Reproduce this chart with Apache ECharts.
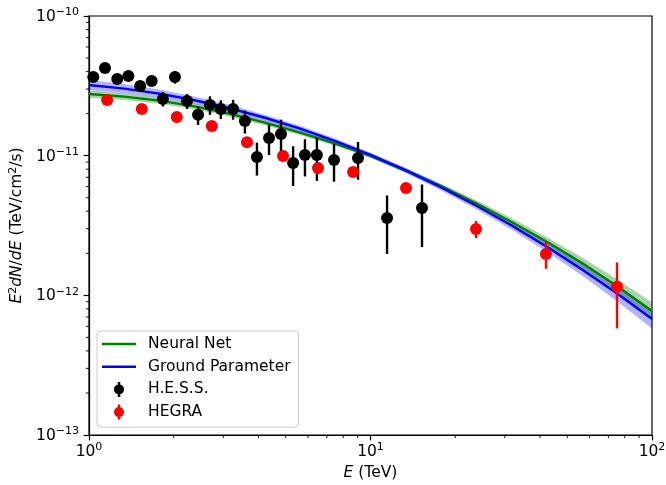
<!DOCTYPE html>
<html><head><meta charset="utf-8">
<script src="https://cdn.jsdelivr.net/npm/echarts@6/dist/echarts.min.js"></script>
<style>html,body{margin:0;padding:0;background:#fff}#c{width:666px;height:485px}</style>
</head><body><div id="c"></div>
<script>
// ---- data ----
const hessE = [1.036,1.14,1.26,1.38,1.52,1.67,1.83,2.02,2.23,2.44,2.69,2.94,3.25,3.58,3.95,4.36,4.81,5.31,5.85,6.45,7.42,9.03,11.45,15.24];
const hessY = [3.66e-11,4.25e-11,3.54e-11,3.72e-11,3.15e-11,3.43e-11,2.55e-11,3.66e-11,2.46e-11,1.96e-11,2.31e-11,2.16e-11,2.16e-11,1.77e-11,9.8e-12,1.34e-11,1.43e-11,8.87e-12,1.01e-11,1.01e-11,9.31e-12,9.63e-12,3.58e-12,4.22e-12];
const hessErr = [1.5e-12,2.0e-12,2.0e-12,2.0e-12,2.7e-12,2.5e-12,3.0e-12,3.8e-12,3.0e-12,3.0e-12,3.5e-12,3.3e-12,3.5e-12,3.3e-12,2.6e-12,3.3e-12,3.8e-12,2.8e-12,3.0e-12,3.5e-12,2.8e-12,2.9e-12,1.6e-12,2.0e-12];

const hegraE = [1.16,1.54,2.05,2.73,3.64,4.89,6.51,8.67,13.37,23.7,42.0,75.1];
const hegraY = [2.5e-11,2.16e-11,1.89e-11,1.63e-11,1.25e-11,9.95e-12,8.16e-12,7.64e-12,5.87e-12,2.99e-12,1.98e-12,1.15e-12];
const hegraErr = [8e-13,7e-13,6e-13,5e-13,4e-13,3e-13,3e-13,3e-13,2.5e-13,4.2e-13,4.3e-13,5.7e-13];

const curveE = [1,1.334,1.778,2.371,3.162,4.217,5.623,7.499,10,13.34,17.78,23.71,31.62,42.17,56.23,74.99,100];
const nnY  = [2.764e-11,2.648e-11,2.476e-11,2.252e-11,1.996e-11,1.722e-11,1.461e-11,1.220e-11,9.951e-12,7.852e-12,6.050e-12,4.563e-12,3.366e-12,2.431e-12,1.709e-12,1.166e-12,7.733e-13];
const nnHi = [2.938e-11,2.801e-11,2.606e-11,2.362e-11,2.087e-11,1.795e-11,1.517e-11,1.265e-11,1.030e-11,8.142e-12,6.305e-12,4.794e-12,3.572e-12,2.614e-12,1.871e-12,1.308e-12,8.896e-13];
const nnLo = [2.600e-11,2.504e-11,2.353e-11,2.147e-11,1.909e-11,1.652e-11,1.407e-11,1.177e-11,9.613e-12,7.572e-12,5.806e-12,4.343e-12,3.172e-12,2.261e-12,1.561e-12,1.039e-12,6.722e-13];
const gpY  = [3.206e-11,3.020e-11,2.779e-11,2.495e-11,2.186e-11,1.869e-11,1.561e-11,1.272e-11,1.012e-11,7.852e-12,5.950e-12,4.401e-12,3.178e-12,2.239e-12,1.540e-12,1.034e-12,6.776e-13];
const gpHi = [3.481e-11,3.258e-11,2.978e-11,2.656e-11,2.312e-11,1.967e-11,1.635e-11,1.328e-11,1.055e-11,8.196e-12,6.252e-12,4.662e-12,3.406e-12,2.431e-12,1.706e-12,1.174e-12,7.926e-13];
const gpLo = [2.952e-11,2.799e-11,2.593e-11,2.344e-11,2.067e-11,1.776e-11,1.491e-11,1.219e-11,9.711e-12,7.522e-12,5.663e-12,4.154e-12,2.966e-12,2.062e-12,1.391e-12,9.108e-13,5.793e-13];

const xMin = 1, xMax = 100, yMin = 1e-13, yMax = 1e-10;
const xMinorTicks = [2,3,4,5,6,7,8,9,20,30,40,50,60,70,80,90];
const yMinorTicks = [2e-13,3e-13,4e-13,5e-13,6e-13,7e-13,8e-13,9e-13,2e-12,3e-12,4e-12,5e-12,6e-12,7e-12,8e-12,9e-12,2e-11,3e-11,4e-11,5e-11,6e-11,7e-11,8e-11,9e-11];

// ---- chart ----
const FONT = 'DejaVu Sans';
const FS = 15.5;
function supLabel(v){
  const e = Math.round(Math.log10(v));
  const s = e < 0 ? '\u2212' + (-e) : '' + e;
  return '{b|10}{s|' + s + '}';
}
const tickRich = {
  b:{fontFamily:FONT,fontSize:FS,color:'#000',lineHeight:18,verticalAlign:'bottom'},
  s:{fontFamily:FONT,fontSize:11,color:'#000',lineHeight:8,verticalAlign:'top'}
};
const nameRich = {
  i:{fontFamily:FONT,fontSize:FS,fontStyle:'italic',color:'#000',lineHeight:18,verticalAlign:'bottom'},
  n:{fontFamily:FONT,fontSize:FS,color:'#000',lineHeight:18,verticalAlign:'bottom'},
  s:{fontFamily:FONT,fontSize:11,color:'#000',lineHeight:8,verticalAlign:'top'}
};

function bandSeries(E, lo, hi, fill){
  return {
    type:'custom', coordinateSystem:'cartesian2d', silent:true, z:1,
    data: E.map((e,i)=>[e, lo[i], hi[i]]),
    encode:{x:0, y:[1,2]},
    renderItem:function(params, api){
      if (params.dataIndex !== 0) return null;
      const pts = [];
      for (let i=0;i<E.length;i++) pts.push(api.coord([E[i], hi[i]]));
      for (let i=E.length-1;i>=0;i--) pts.push(api.coord([E[i], lo[i]]));
      return {type:'polygon', shape:{points:pts}, style:{fill:fill, stroke:null}};
    }
  };
}
function errSeries(name, E, Y, err, color){
  return {
    type:'custom', name:name, coordinateSystem:'cartesian2d', silent:true, z:4,
    data: E.map((e,i)=>[e, Y[i]-err[i], Y[i]+err[i]]),
    encode:{x:0, y:[1,2]},
    renderItem:function(params, api){
      const a = api.coord([api.value(0), api.value(1)]);
      const b = api.coord([api.value(0), api.value(2)]);
      return {type:'line', shape:{x1:a[0],y1:a[1],x2:b[0],y2:b[1]}, style:{stroke:color, lineWidth:2.4}};
    }
  };
}
function minorTickSeries(axis){
  const data = axis === 'x' ? xMinorTicks.map(v=>[v, yMin]) : yMinorTicks.map(v=>[xMin, v]);
  return {
    type:'custom', coordinateSystem:'cartesian2d', silent:true, clip:false, z:6,
    data:data,
    renderItem:function(params, api){
      const p = api.coord([api.value(0), api.value(1)]);
      const sh = axis === 'x' ? {x1:p[0],y1:p[1],x2:p[0],y2:p[1]+3.2} : {x1:p[0],y1:p[1],x2:p[0]-3.2,y2:p[1]};
      return {type:'line', shape:sh, style:{stroke:'#000', lineWidth:0.9}};
    }
  };
}
const errIcon = 'path://M6.25,0 L8.75,0 L8.75,15 L6.25,15 Z M12.5,7.5 A5,5 0 1 1 2.5,7.5 A5,5 0 1 1 12.5,7.5 Z';
const lineIcon = 'path://M0,0 L34,0 L34,2.6 L0,2.6 Z';

const chart = echarts.init(document.getElementById('c'), null, {renderer:'canvas'});
chart.setOption({
  animation:false,
  backgroundColor:'#fff',
  grid:{left:89, right:14, top:16, bottom:50, show:true, borderColor:'#000', borderWidth:1.2, backgroundColor:'transparent', containLabel:false, outerBoundsMode:'none'},
  xAxis:{
    type:'log', logBase:10, min:xMin, max:xMax,
    name:'{i|E}{n| (TeV)}', nameLocation:'middle', nameGap:27,
    nameTextStyle:{rich:nameRich},
    axisLine:{show:true, onZero:false, lineStyle:{color:'#000', width:1.2}},
    axisTick:{show:true, length:5.4, lineStyle:{color:'#000', width:1.2}},
    axisLabel:{formatter:supLabel, rich:tickRich, margin:7, showMinLabel:true, showMaxLabel:true},
    splitLine:{show:false}, minorTick:{show:false}, minorSplitLine:{show:false}
  },
  yAxis:{
    type:'log', logBase:10, min:yMin, max:yMax,
    name:'{i|E}{s|2}{i|dN}{n|/}{i|dE}{n| (TeV/cm}{s|2}{n|/s)}', nameLocation:'middle', nameGap:60, nameRotate:90,
    nameTextStyle:{rich:nameRich},
    axisLine:{show:true, onZero:false, lineStyle:{color:'#000', width:1.2}},
    axisTick:{show:true, length:5.4, lineStyle:{color:'#000', width:1.2}},
    axisLabel:{formatter:supLabel, rich:tickRich, margin:10, showMinLabel:true, showMaxLabel:true},
    splitLine:{show:false}, minorTick:{show:false}, minorSplitLine:{show:false}
  },
  legend:{
    orient:'vertical', left:97, top:331, padding:[5,8,7,5], itemGap:6.7,
    itemWidth:34, itemHeight:15, selectedMode:false, symbolKeepAspect:true,
    backgroundColor:'rgba(255,255,255,0.8)', borderColor:'#cccccc', borderWidth:1, borderRadius:4,
    textStyle:{fontFamily:FONT, fontSize:FS, color:'#000', lineHeight:16, padding:[0,0,0,7]},
    data:[
      {name:'Neural Net', icon:lineIcon, itemStyle:{color:'#008000'}},
      {name:'Ground Parameter', icon:lineIcon, itemStyle:{color:'#0000ff'}},
      {name:'H.E.S.S.', icon:errIcon, itemStyle:{color:'#000'}},
      {name:'HEGRA', icon:errIcon, itemStyle:{color:'#ff0000'}}
    ]
  },
  series:[
    bandSeries(curveE, nnLo, nnHi, 'rgba(0,128,0,0.35)'),
    bandSeries(curveE, gpLo, gpHi, 'rgba(0,0,255,0.3)'),
    {type:'line', name:'Neural Net', data:curveE.map((e,i)=>[e,nnY[i]]), symbol:'none', showSymbol:false, z:2,
     lineStyle:{color:'#008000', width:2.4}, itemStyle:{color:'#008000'}},
    {type:'line', name:'Ground Parameter', data:curveE.map((e,i)=>[e,gpY[i]]), symbol:'none', showSymbol:false, z:3,
     lineStyle:{color:'#0000ff', width:2.4}, itemStyle:{color:'#0000ff'}},
    errSeries('hessErr', hessE, hessY, hessErr, '#000'),
    errSeries('hegraErr', hegraE, hegraY, hegraErr, '#ff0000'),
    {type:'scatter', name:'H.E.S.S.', data:hessE.map((e,i)=>[e,hessY[i]]), symbol:'circle', symbolSize:12, z:5,
     itemStyle:{color:'#000', opacity:1}},
    {type:'scatter', name:'HEGRA', data:hegraE.map((e,i)=>[e,hegraY[i]]), symbol:'circle', symbolSize:12, z:5,
     itemStyle:{color:'#ff0000', opacity:1}},
    minorTickSeries('x'),
    minorTickSeries('y')
  ]
});
</script></body></html>
